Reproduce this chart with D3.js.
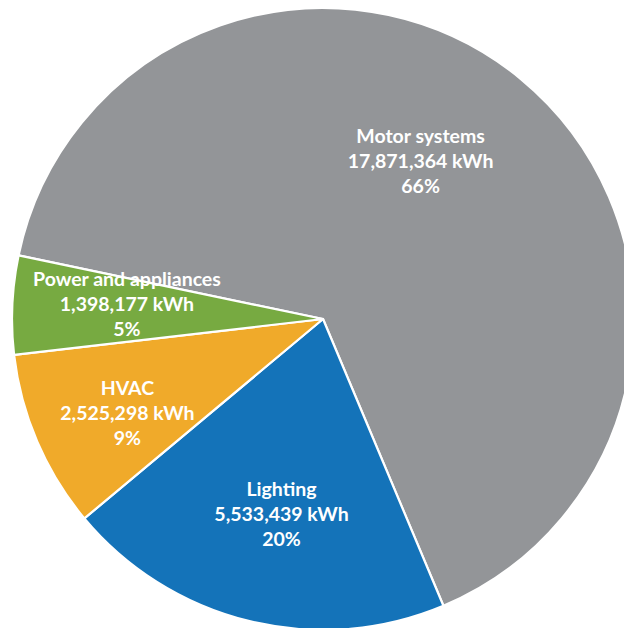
<!DOCTYPE html>
<html>
<head>
<meta charset="utf-8">
<script src="https://cdn.jsdelivr.net/npm/d3@7"></script>
<style>
  html, body { margin: 0; padding: 0; background: #fff; }
  svg { display: block; }
</style>
</head>
<body>
<svg id="chart" width="624" height="628"></svg>
<script>
// Electricity use by end-use category (kWh)
const categories = ["Motor systems", "Lighting", "HVAC", "Power and appliances"];
const energyKWh = [17871364, 5533439, 2525298, 1398177];
const percentLabels = ["66%", "20%", "9%", "5%"];

const colors = d3.scaleOrdinal()
  .domain(categories)
  .range(["#939598", "#1473b9", "#f0aa2a", "#77aa41"]);

const width = 624, height = 628;
const cx = 323, cy = 319, radius = 311;
const firstSliceAngle = 281.8 * Math.PI / 180;

// Per-label nudges from the default label ring
const labelNudge = {
  "Motor systems": [-33, 0],
  "Lighting": [7, -4],
  "HVAC": [-7, 13],
  "Power and appliances": [9, -6]
};

const svg = d3.select("#chart");
const g = svg.append("g").attr("transform", `translate(${cx},${cy})`);

const data = categories.map((c, i) => ({ category: c, value: energyKWh[i], pct: percentLabels[i] }));

const pie = d3.pie()
  .value(d => d.value)
  .sort(null)
  .startAngle(firstSliceAngle)
  .endAngle(firstSliceAngle + 2 * Math.PI);

const arcs = pie(data);

const arc = d3.arc().innerRadius(0).outerRadius(radius);
const labelArc = d3.arc().innerRadius(radius * 0.66).outerRadius(radius * 0.66);

g.selectAll("path.slice")
  .data(arcs)
  .join("path")
  .attr("class", "slice")
  .attr("d", arc)
  .attr("fill", d => colors(d.data.category))
  .attr("stroke", "#ffffff")
  .attr("stroke-width", 2.2)
  .attr("stroke-linejoin", "round");

const fmt = d3.format(",");
const lineGap = 25;

const labels = g.selectAll("text.label")
  .data(arcs)
  .join("text")
  .attr("class", "label")
  .attr("text-anchor", "middle")
  .attr("fill", "#ffffff")
  .attr("font-family", "Lato, 'Open Sans', sans-serif")
  .attr("font-weight", 700)
  .attr("font-size", 19.5)
  .attr("transform", d => {
    const [x, y] = labelArc.centroid(d);
    const [nx, ny] = labelNudge[d.data.category];
    // anchor is the vertical middle of the centre line
    return `translate(${x + nx},${y + ny + 7})`;
  });

labels.each(function(d) {
  const t = d3.select(this);
  const lines = [d.data.category, fmt(d.data.value) + " kWh", d.data.pct];
  lines.forEach((line, i) => {
    t.append("tspan")
      .attr("x", 0)
      .attr("y", (i - 1) * lineGap)
      .text(line);
  });
});
</script>
</body>
</html>
